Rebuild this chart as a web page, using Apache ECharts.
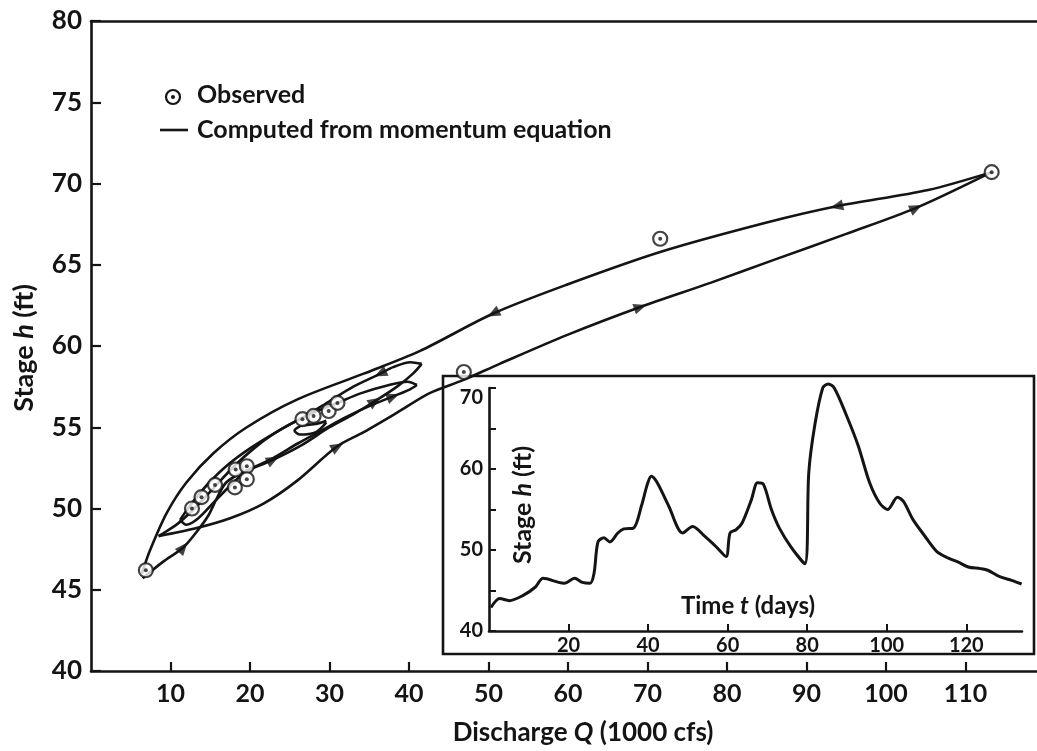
<!DOCTYPE html>
<html><head><meta charset="utf-8">
<script src="https://cdn.jsdelivr.net/npm/echarts@6/dist/echarts.min.js"></script>
<style>html,body{margin:0;padding:0;background:#fff}#c{width:1037px;height:751px}</style>
</head><body><div id="c"></div>
<script>
// ---- tick labels ----
const mainXTicks = [10, 20, 30, 40, 50, 60, 70, 80, 90, 100, 110];
const insetXTicks = [20, 40, 60, 80, 100, 120];
const insetYLabels = [40, 50, 60, 70];

// ---- observed points (Q in 1000 cfs, h in ft) ----
const obsQ = [6.9, 12.7, 13.9, 15.6, 18.2, 19.6, 18.1, 19.6, 26.6, 28.0, 29.9, 31.0, 46.9, 71.6, 113.3];
const obsH = [46.2, 50.0, 50.7, 51.45, 52.4, 52.6, 51.3, 51.8, 55.5, 55.7, 56.0, 56.5, 58.4, 66.6, 70.7];

// ---- computed curves (momentum equation) ----
const fallBigQ = [113.3, 105.3, 93.8, 85.0, 71.7, 60.0, 50.6, 41.4, 34.3, 25.9, 19.6, 15.4, 12.0, 9.5, 7.4, 6.4];
const fallBigH = [70.7, 69.6, 68.6, 67.6, 65.8, 63.8, 62.0, 59.7, 58.3, 56.7, 55.0, 53.4, 51.6, 49.7, 47.4, 46.0];
const riseBigQ = [8.5, 13.3, 17.5, 21.7, 25.9, 30.9, 34.3, 38.5, 42.6, 46.8, 51.4, 60.0, 69.1, 78.0, 85.9, 95.0, 103.8, 113.3];
const riseBigH = [48.3, 48.8, 49.4, 50.3, 51.7, 53.8, 54.7, 55.9, 57.1, 57.9, 58.9, 60.7, 62.4, 63.9, 65.3, 66.9, 68.5, 70.7];
const rise1Q = [6.5, 9.0, 11.6, 13.5, 14.8, 15.8, 17.0, 19.0, 22.9, 26.5, 30.0, 33.0, 35.7, 38.5, 40.5, 41.6];
const rise1H = [45.7, 46.7, 47.6, 48.7, 49.6, 50.6, 51.6, 52.2, 53.0, 53.9, 55.0, 55.8, 56.6, 57.5, 58.3, 58.9];
const fall1Q = [41.6, 40.2, 38.0, 36.4, 33.0, 30.0, 27.0, 24.0, 20.0, 17.0, 14.5, 12.5, 11.2];
const fall1H = [58.9, 59.0, 58.7, 58.3, 57.5, 56.6, 55.7, 54.9, 53.7, 52.6, 51.4, 50.2, 49.3];
const rise2Q = [11.2, 12.0, 13.5, 15.5, 17.5, 19.6, 22.9, 26.0, 29.0, 32.0, 35.0, 38.0, 40.0, 41.0];
const rise2H = [49.3, 49.0, 49.4, 50.4, 51.4, 52.3, 53.1, 54.0, 54.8, 55.6, 56.3, 56.9, 57.3, 57.6];
const fall2Q = [41.0, 39.8, 37.5, 34.0, 31.0, 28.0, 25.5, 23.0, 20.5, 18.0, 15.5, 13.0, 11.0, 9.5, 8.5];
const fall2H = [57.6, 57.8, 57.6, 57.1, 56.5, 55.9, 55.3, 54.6, 53.7, 52.6, 51.3, 50.0, 49.1, 48.6, 48.3];
const bumpQ = [29.6, 28.3, 26.5, 25.6, 26.3, 28.3, 29.6];
const bumpH = [55.4, 55.2, 55.1, 54.8, 54.55, 54.7, 55.3];

// ---- direction arrows on the curves (position and next point along the curve) ----
const arrowQ = [93.8, 50.6, 36.4, 69.1, 103.8, 31.0, 11.6, 22.9, 35.7, 38.0];
const arrowH = [68.6, 62.0, 58.3, 62.4, 68.5, 53.8, 47.6, 53.0, 56.6, 56.9];
const arrowToQ = [85.0, 41.4, 33.0, 78.0, 113.3, 34.3, 13.5, 26.5, 38.5, 40.0];
const arrowToH = [67.6, 59.7, 57.5, 63.9, 70.7, 54.7, 48.7, 53.9, 57.5, 57.3];

// ---- inset: stage hydrograph ----
const hydroDay = [0.5, 2.7, 5.1, 8.6, 11.6, 13.6, 17.5, 19.0, 21.5, 23.5, 25.4, 26.4, 27.4, 28.9, 30.4, 32.4, 33.9, 36.3, 38.3, 39.8, 40.8, 42.3, 45.2, 48.7, 51.2, 54.2, 57.1, 59.6, 60.6, 62.1, 63.6, 66.0, 67.5, 69.0, 71.0, 73.0, 75.9, 79.4, 80.4, 81.9, 83.9, 85.3, 86.8, 89.8, 92.8, 95.7, 98.2, 100.2, 102.7, 104.2, 106.6, 109.6, 112.6, 115.5, 118.0, 120.5, 123.5, 125.4, 128.4, 131.4, 133.9];
const hydroStage = [42.9, 44.0, 43.75, 44.4, 45.4, 46.5, 46.0, 45.9, 46.5, 46.0, 45.9, 47.1, 51.0, 51.5, 51.0, 52.1, 52.6, 52.7, 55.4, 58.1, 59.1, 58.3, 55.4, 52.1, 52.9, 51.7, 50.4, 49.2, 52.1, 52.5, 53.3, 56.25, 58.3, 58.1, 55.0, 52.7, 50.4, 48.3, 59.6, 65.4, 70.0, 70.5, 70.0, 66.7, 62.9, 58.3, 55.8, 55.0, 56.5, 56.0, 53.75, 51.7, 49.8, 49.0, 48.5, 47.9, 47.7, 47.5, 46.7, 46.25, 45.8];

const INK = '#141414';
const FONT = 'Lato, "DejaVu Sans", sans-serif';
const zip = (a, b) => a.map((v, i) => [v, b[i]]);

function curve(name, q, h) {
  return {
    type: 'line', name: name, xAxisIndex: 0, yAxisIndex: 0,
    data: zip(q, h), smooth: 0.3, showSymbol: false, silent: true,
    lineStyle: { color: INK, width: 2.6 }, z: 3
  };
}
function richTitle(pre, it, post, size) {
  return {
    text: '{n|' + pre + '}{i|' + it + '}{n|' + post + '}', align: 'center', verticalAlign: 'middle',
    rich: { n: { font: 'bold ' + size + 'px ' + FONT, fill: INK }, i: { font: 'italic bold ' + size + 'px ' + FONT, fill: INK } }
  };
}

const option = {
  animation: false,
  backgroundColor: '#fff',
  textStyle: { fontFamily: FONT, color: INK, fontWeight: 'bold' },
  grid: [
    { left: 91, right: 0, top: 21, bottom: 80 },
    { left: 489, right: 15, top: 388, bottom: 120 }
  ],
  xAxis: [
    { type: 'value', gridIndex: 0, min: 0, max: 119, splitLine: { show: false },
      axisLine: { lineStyle: { color: INK, width: 2.6 } },
      axisTick: { inside: true, length: 9, customValues: mainXTicks, lineStyle: { color: INK, width: 2.2 } },
      axisLabel: { customValues: mainXTicks, margin: 10, fontSize: 25, color: INK, fontFamily: FONT, fontWeight: 'bold' } },
    { type: 'value', gridIndex: 0, position: 'top', min: 0, max: 119, splitLine: { show: false },
      axisLine: { lineStyle: { color: INK, width: 2.6 } }, axisTick: { show: false }, axisLabel: { show: false } },
    { type: 'value', gridIndex: 1, min: 0, max: 134, splitLine: { show: false },
      axisLine: { lineStyle: { color: INK, width: 2.6 } },
      axisTick: { inside: true, length: 7, customValues: insetXTicks, lineStyle: { color: INK, width: 2 } },
      axisLabel: { customValues: insetXTicks, margin: 5, fontSize: 20, color: INK, fontFamily: FONT, fontWeight: 'bold' } }
  ],
  yAxis: [
    { type: 'value', gridIndex: 0, min: 40, max: 80, interval: 5, splitLine: { show: false },
      axisLine: { show: true, lineStyle: { color: INK, width: 2.6 } },
      axisTick: { show: true, inside: true, length: 10, lineStyle: { color: INK, width: 2.2 } },
      axisLabel: { margin: 9, fontSize: 26, color: INK, fontFamily: FONT, fontWeight: 'bold' } },
    { type: 'value', gridIndex: 1, min: 40, max: 70, interval: 5, splitLine: { show: false },
      axisLine: { show: true, lineStyle: { color: INK, width: 2.6 } },
      axisTick: { show: true, inside: true, length: 7, lineStyle: { color: INK, width: 2 } },
      axisLabel: { customValues: insetYLabels, margin: 6, fontSize: 20, color: INK, fontFamily: FONT, fontWeight: 'bold',
        verticalAlignMaxLabel: 'top' } }
  ],
  graphic: [
    { type: 'rect', z: 1, shape: { x: 443, y: 376, width: 591, height: 278 },
      style: { fill: 'none', stroke: INK, lineWidth: 2.6 } },
    { type: 'circle', z: 10, shape: { cx: 173, cy: 97, r: 7 }, style: { fill: '#fff', stroke: INK, lineWidth: 2.2 } },
    { type: 'circle', z: 10, shape: { cx: 173, cy: 97, r: 2 }, style: { fill: INK } },
    { type: 'text', z: 10, x: 197, y: 95, style: { text: 'Observed', font: 'bold 25px ' + FONT, fill: INK, verticalAlign: 'middle' } },
    { type: 'line', z: 10, shape: { x1: 160, y1: 130, x2: 188, y2: 130 }, style: { stroke: INK, lineWidth: 2.6 } },
    { type: 'text', z: 10, x: 197, y: 130, style: { text: 'Computed from momentum equation', font: 'bold 25px ' + FONT, fill: INK, verticalAlign: 'middle' } },
    { type: 'text', z: 10, x: 583, y: 733, style: richTitle('Discharge ', 'Q', ' (1000 cfs)', 26) },
    { type: 'text', z: 10, x: 24, y: 348, rotation: Math.PI / 2, style: richTitle('Stage ', 'h', ' (ft)', 27) },
    { type: 'text', z: 10, x: 748, y: 606, style: richTitle('Time ', 't', ' (days)', 24) },
    { type: 'text', z: 10, x: 523, y: 505, rotation: Math.PI / 2, style: richTitle('Stage ', 'h', ' (ft)', 25) }
  ],
  series: [
    curve('Falling limb (main flood)', fallBigQ, fallBigH),
    curve('Rising limb (main flood)', riseBigQ, riseBigH),
    curve('Rising limb 1', rise1Q, rise1H),
    curve('Falling limb 1', fall1Q, fall1H),
    curve('Rising limb 2', rise2Q, rise2H),
    curve('Falling limb 2', fall2Q, fall2H),
    curve('Secondary loop', bumpQ, bumpH),
    { id: 'arrows', type: 'scatter', xAxisIndex: 0, yAxisIndex: 0, symbol: 'triangle', symbolSize: [11, 13],
      itemStyle: { color: INK }, data: zip(arrowQ, arrowH), z: 5, silent: true },
    { type: 'scatter', name: 'Observed', xAxisIndex: 0, yAxisIndex: 0, symbol: 'circle', symbolSize: 14,
      itemStyle: { color: '#fff', borderColor: INK, borderWidth: 2.2 }, data: zip(obsQ, obsH), z: 6, silent: true },
    { type: 'scatter', name: 'Observed centre', xAxisIndex: 0, yAxisIndex: 0, symbol: 'circle', symbolSize: 4,
      itemStyle: { color: INK }, data: zip(obsQ, obsH), z: 7, silent: true },
    { type: 'line', name: 'Stage hydrograph', xAxisIndex: 2, yAxisIndex: 1, data: zip(hydroDay, hydroStage),
      smooth: 0.3, showSymbol: false, clip: false, silent: true, lineStyle: { color: INK, width: 3 }, z: 3 }
  ]
};

const chart = echarts.init(document.getElementById('c'), null, { renderer: 'canvas' });
chart.setOption(option);
const arrowData = arrowQ.map((q, i) => {
  const p0 = chart.convertToPixel({ xAxisIndex: 0, yAxisIndex: 0 }, [q, arrowH[i]]);
  const p1 = chart.convertToPixel({ xAxisIndex: 0, yAxisIndex: 0 }, [arrowToQ[i], arrowToH[i]]);
  const dx = p1[0] - p0[0], dy = p1[1] - p0[1];
  return { value: [q, arrowH[i]], symbolRotate: Math.atan2(-dx, -dy) * 180 / Math.PI };
});
chart.setOption({ series: [{ id: 'arrows', data: arrowData }] });
</script></body></html>
